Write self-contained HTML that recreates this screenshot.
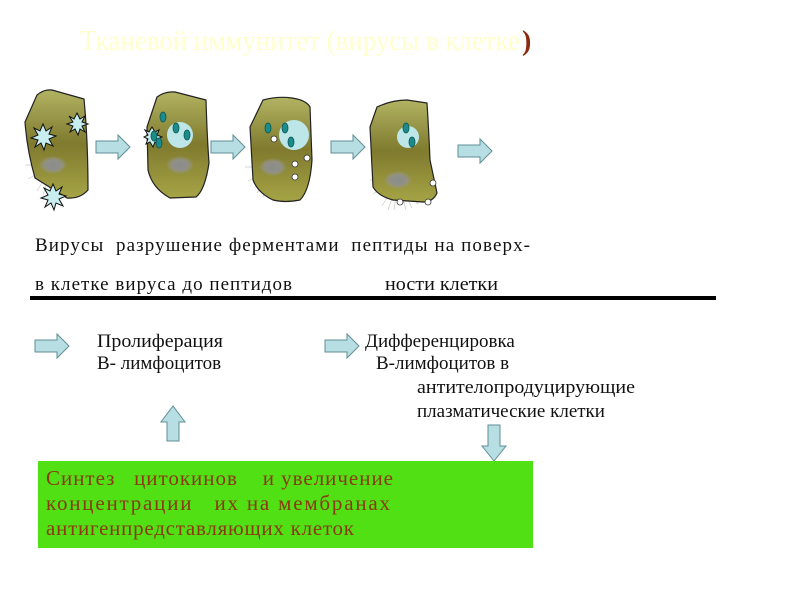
<!DOCTYPE html>
<html><head><meta charset="utf-8"><style>
body{margin:0;background:#fff;width:800px;height:600px;overflow:hidden}
svg{display:block}
text{font-family:"Liberation Serif",serif;white-space:pre}
</style></head><body>
<svg width="800" height="600" viewBox="0 0 800 600">
<defs>
<linearGradient id="cg" x1="0" y1="0" x2="0" y2="1">
<stop offset="0" stop-color="#b2b363"/><stop offset="0.5" stop-color="#7f7a2e"/><stop offset="1" stop-color="#a6a446"/>
</linearGradient>
<radialGradient id="nu"><stop offset="0" stop-color="#8a8a8a"/><stop offset="0.55" stop-color="#909088"/><stop offset="1" stop-color="#999" stop-opacity="0"/></radialGradient>
<g id="arr"><path d="M0,-6 H22 V-12 L34,0 L22,12 V6 H0 Z" fill="#b7dfe3" stroke="#5f8f96" stroke-width="1"/></g>
<g id="rays" stroke="#c9c9c0" stroke-width="0.7">
<line x1="0" y1="0" x2="-28" y2="0"/><line x1="0" y1="0" x2="-25" y2="14"/><line x1="0" y1="0" x2="-16" y2="26"/><line x1="0" y1="0" x2="-4" y2="30"/><line x1="0" y1="0" x2="8" y2="30"/><line x1="0" y1="0" x2="20" y2="24"/><line x1="0" y1="0" x2="28" y2="10"/><line x1="0" y1="0" x2="28" y2="-6"/><line x1="0" y1="0" x2="22" y2="-18"/><line x1="0" y1="0" x2="-22" y2="-16"/><line x1="0" y1="0" x2="-10" y2="30"/><line x1="0" y1="0" x2="14" y2="28"/>
</g>
</defs>
<text x="80" y="50" font-size="28" fill="#ffffcc" textLength="440" lengthAdjust="spacingAndGlyphs">Тканевой иммунитет (вирусы в клетке</text>
<text x="522" y="50" font-size="28" fill="#8b2a10" font-weight="bold">)</text>

<use href="#rays" x="53" y="165"/>
<path d="M37,95 Q44,89 52,90 L84,99 Q88,140 88,190 Q80,199 67,198 L35,178 Q27,150 25,122 Z" fill="url(#cg)" stroke="#222" stroke-width="1.2" stroke-linejoin="round"/>
<ellipse cx="53" cy="165" rx="14" ry="9" fill="url(#nu)"/>
<use href="#rays" x="180" y="165"/>
<path d="M157,97 Q165,91 175,92 L206,100 Q207,135 209,163 Q205,190 196,197 L170,198 Q152,188 148,170 L147,127 Z" fill="url(#cg)" stroke="#222" stroke-width="1.2" stroke-linejoin="round"/>
<ellipse cx="180" cy="165" rx="14" ry="9" fill="url(#nu)"/>
<use href="#rays" x="273" y="167"/>
<path d="M263,100 Q278,96 292,98 Q306,100 310,107 Q311,135 312,160 Q310,190 300,200 Q285,203 273,200 Q258,193 253,180 L250,127 Z" fill="url(#cg)" stroke="#222" stroke-width="1.2" stroke-linejoin="round"/>
<ellipse cx="273" cy="167" rx="14" ry="9" fill="url(#nu)"/>
<use href="#rays" x="398" y="180"/>
<path d="M377,107 Q392,100 407,100 L427,103 Q429,135 430,160 L437,193 Q433,202 423,202 L393,200 Q378,196 373,187 L370,127 Z" fill="url(#cg)" stroke="#222" stroke-width="1.2" stroke-linejoin="round"/>
<ellipse cx="398" cy="180" rx="14" ry="9" fill="url(#nu)"/>

<g fill="#c8eef0" stroke="#111" stroke-width="1">
<path transform="translate(43,137)" d="M0,-13 L3,-6 9,-10 6,-3 13,-1 6,2 10,9 3,6 1,13 -2,6 -8,10 -5,3 -12,1 -5,-2 -9,-9 -3,-6 Z"/>
<path transform="translate(77,124)" d="M0,-11 L3,-5 8,-8 5,-2 11,0 5,2 8,8 3,5 1,11 -2,5 -7,8 -4,2 -10,0 -4,-2 -8,-8 -3,-5 Z"/>
<path transform="translate(53,197)" d="M0,-13 L3,-6 9,-10 6,-3 13,-1 6,2 10,9 3,6 1,13 -2,6 -8,10 -5,3 -12,1 -5,-2 -9,-9 -3,-6 Z"/>
<path transform="translate(152,137)" d="M0,-10 L3,-5 7,-7 5,-2 10,0 5,2 7,7 3,5 1,10 -2,5 -6,7 -4,2 -8,0 -4,-2 -7,-7 -3,-5 Z"/>
</g>
<g fill="#bde6e8"><circle cx="180" cy="135" r="13"/><circle cx="294" cy="135" r="15"/><circle cx="408" cy="137" r="11"/></g>
<g fill="#1b8c8a" stroke="#0b5554" stroke-width="0.8">
<ellipse cx="163" cy="117" rx="3" ry="5"/><ellipse cx="176" cy="128" rx="3" ry="5"/><ellipse cx="187" cy="135" rx="3" ry="5"/><ellipse cx="154" cy="136" rx="3" ry="5"/><ellipse cx="159" cy="143" rx="3" ry="5"/>
<ellipse cx="268" cy="128" rx="3" ry="5"/><ellipse cx="285" cy="128" rx="3" ry="5"/><ellipse cx="291" cy="142" rx="3" ry="5"/>
<ellipse cx="406" cy="128" rx="3" ry="5"/><ellipse cx="412" cy="142" rx="3" ry="5"/>
</g>
<g fill="#fff" stroke="#333" stroke-width="0.8">
<circle cx="274" cy="139" r="3"/><circle cx="307" cy="158" r="3"/><circle cx="295" cy="164" r="3"/><circle cx="295" cy="177" r="3"/>
<circle cx="433" cy="183" r="3"/><circle cx="400" cy="202" r="3"/><circle cx="428" cy="202" r="3"/>
</g>

<use href="#arr" x="96" y="147"/>
<use href="#arr" x="211" y="147"/>
<use href="#arr" x="331" y="147"/>
<use href="#arr" x="458" y="151"/>

<g font-size="19" fill="#111">
<text x="35" y="251" textLength="495" lengthAdjust="spacing">Вирусы  разрушение ферментами  пептиды на поверх-</text>
<text x="35" y="290" textLength="257" lengthAdjust="spacing">в клетке вируса до пептидов</text>
<text x="385" y="290" textLength="113" lengthAdjust="spacingAndGlyphs">ности клетки</text>
<text x="97" y="347" textLength="126" lengthAdjust="spacingAndGlyphs">Пролиферация</text>
<text x="97" y="369">В- лимфоцитов</text>
<text x="365" y="347">Дифференцировка</text>
<text x="376" y="369">В-лимфоцитов в</text>
<text x="417" y="393" textLength="218" lengthAdjust="spacingAndGlyphs">антителопродуцирующие</text>
<text x="417" y="417">плазматические клетки</text>
</g>
<rect x="30" y="296" width="686" height="4" fill="#000"/>

<use href="#arr" x="35" y="346"/>
<use href="#arr" x="325" y="346"/>
<path d="M167,441 V422 H161 L173,406 L185,422 H179 V441 Z" fill="#b7dfe3" stroke="#5f8f96"/>
<path d="M488,425 V446 H482 L494,461 L506,446 H500 V425 Z" fill="#b7dfe3" stroke="#5f8f96"/>

<rect x="38" y="461" width="495" height="87" fill="#50e014"/>
<g font-size="21" fill="#8a3a0e">
<text x="46" y="485" textLength="347" lengthAdjust="spacing">Синтез   цитокинов    и увеличение</text>
<text x="46" y="510" textLength="344" lengthAdjust="spacing">концентрации   их на мембранах</text>
<text x="46" y="535" textLength="308" lengthAdjust="spacing">антигенпредставляющих клеток</text>
</g>
</svg>
</body></html>
